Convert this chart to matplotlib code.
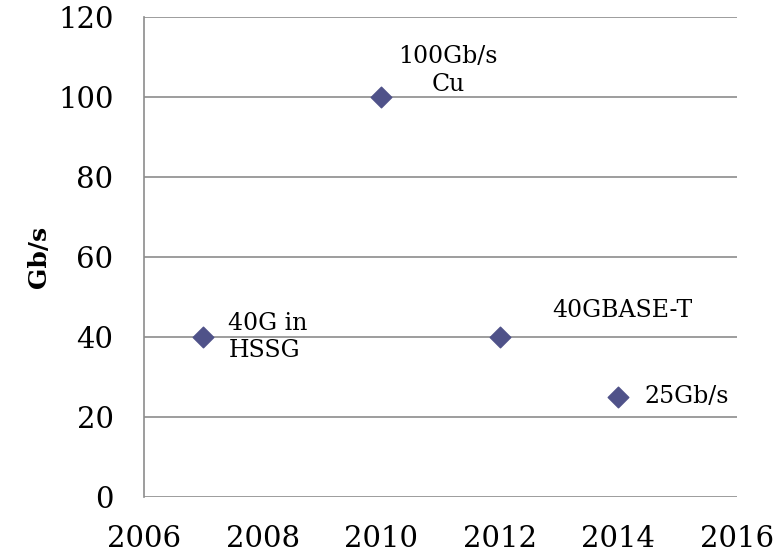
import matplotlib
matplotlib.use("Agg")
import matplotlib.pyplot as plt

years = [2007, 2010, 2012, 2014]
speeds = [40, 100, 40, 25]
labels = ["40G in\nHSSG", "100Gb/s\nCu", "40GBASE-T", "25Gb/s"]

plt.rcParams["font.family"] = ["DejaVu Serif"]

fig = plt.figure(figsize=(7.83, 5.53), dpi=100)
ax = fig.add_axes([0.184, 0.1013, 0.757, 0.868])

ax.scatter(years, speeds, marker="D", s=110, color="#4F5289", zorder=3)

# label offsets in points, picked by eye
offsets = [(18, 0), (48, 19), (38, 19), (19, 0)]
aligns = ["left", "center", "left", "left"]
for x, y, t, off, ha in zip(years, speeds, labels, offsets, aligns):
    ax.annotate(t, (x, y), xytext=off, textcoords="offset points",
                ha=ha, va="center", fontsize=17, linespacing=1.25)

ax.set_xlim(2006, 2016)
ax.set_ylim(0, 120)
ax.set_xticks(range(2006, 2017, 2))
ax.set_yticks(range(0, 121, 20))
ax.tick_params(length=0, labelsize=21)
ax.tick_params(axis="y", pad=22)
ax.tick_params(axis="x", pad=20)
ax.yaxis.grid(True, color="#8c8c8c", linewidth=1.2)
ax.set_axisbelow(True)
for s in ["top", "right", "bottom"]:
    ax.spines[s].set_visible(False)
ax.spines["left"].set_color("#8c8c8c")
ax.spines["left"].set_linewidth(1.2)
ax.set_ylabel("Gb/s", fontsize=18, fontweight="bold", labelpad=5)

fig.savefig("out.png", dpi=100)
